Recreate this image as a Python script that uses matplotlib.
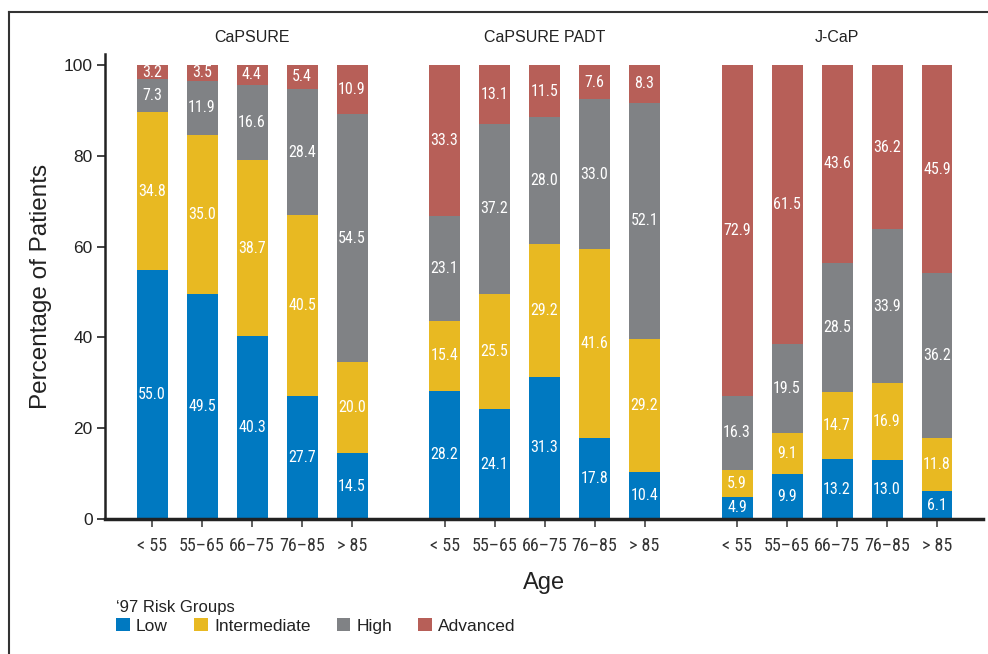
import matplotlib
matplotlib.use("Agg")
import matplotlib.pyplot as plt
from matplotlib.lines import Line2D
from matplotlib.patches import Patch
from matplotlib import font_manager
import numpy as np

groups = ["CaPSURE", "CaPSURE PADT", "J-CaP"]
ages = ["< 55", "55\u201365", "66\u201375", "76\u201385", "> 85"]
risk_groups = ["Low", "Intermediate", "High", "Advanced"]

capsure_low = [55.0, 49.5, 40.3, 27.7, 14.5]
capsure_int = [34.8, 35.0, 38.7, 40.5, 20.0]
capsure_high = [7.3, 11.9, 16.6, 28.4, 54.5]
capsure_adv = [3.2, 3.5, 4.4, 5.4, 10.9]

padt_low = [28.2, 24.1, 31.3, 17.8, 10.4]
padt_int = [15.4, 25.5, 29.2, 41.6, 29.2]
padt_high = [23.1, 37.2, 28.0, 33.0, 52.1]
padt_adv = [33.3, 13.1, 11.5, 7.6, 8.3]

jcap_low = [4.9, 9.9, 13.2, 13.0, 6.1]
jcap_int = [5.9, 9.1, 14.7, 16.9, 11.8]
jcap_high = [16.3, 19.5, 28.5, 33.9, 36.2]
jcap_adv = [72.9, 61.5, 43.6, 36.2, 45.9]

colors = ["#0079C1", "#E8B922", "#808285", "#B75F58"]

avail = {f.name for f in font_manager.fontManager.ttflist}
narrow = "Liberation Sans Narrow" if "Liberation Sans Narrow" in avail else ("Roboto Condensed" if "Roboto Condensed" in avail else "Liberation Sans")
plt.rcParams['font.family'] = ['Liberation Sans', 'DejaVu Sans']

data = [
    [capsure_low, capsure_int, capsure_high, capsure_adv],
    [padt_low, padt_int, padt_high, padt_adv],
    [jcap_low, jcap_int, jcap_high, jcap_adv],
]

fig = plt.figure(figsize=(9.88, 6.54), dpi=100)
ax = fig.add_axes([105/988, 1-519/654, (983-105)/988, (519-54)/654])

group_offset = 5.85
width = 0.62
all_x = []
all_lab = []
for gi, gdata in enumerate(data):
    x = np.arange(5) + gi * group_offset
    arr = np.array(gdata)
    totals = arr.sum(axis=0)
    heights = arr / totals * 100
    bottom = np.zeros(5)
    for ri in range(4):
        ax.bar(x, heights[ri], width, bottom=bottom, color=colors[ri], linewidth=0)
        for xi, b, h, v in zip(x, bottom, heights[ri], arr[ri]):
            ax.text(xi, b + h / 2, f"{v:.1f}", ha="center", va="center",
                    color="white", fontsize=11.5, family=[narrow, 'DejaVu Sans'])
        bottom = bottom + heights[ri]
    ax.text(x.mean(), 106, groups[gi], ha="center", va="center", fontsize=11.5, color="#222222")
    all_x.extend(x)
    all_lab.extend(ages)

ax.set_xticks(all_x)
ax.set_xticklabels(all_lab, fontsize=13, color="#333333", family=[narrow, 'DejaVu Sans'])
ax.set_xlim(-0.94, 16.62)
ax.set_ylim(0, 102.4)
ax.set_yticks([0, 20, 40, 60, 80, 100])
ax.tick_params(axis='y', labelsize=12.5, colors="#222222", length=6, width=1.2, pad=3)
ax.tick_params(axis='x', length=6, width=1.2, color="#444444", pad=7)
for s in ["top", "right"]:
    ax.spines[s].set_visible(False)
ax.spines["left"].set_linewidth(1.8)
ax.spines["bottom"].set_linewidth(2.5)
ax.spines["left"].set_color("#222222")
ax.spines["bottom"].set_color("#222222")
ax.set_ylabel("Percentage of Patients", fontsize=17.5, color="#222222", labelpad=8)
ax.set_xlabel("Age", fontsize=17, color="#222222", labelpad=12)

handles = [Patch(facecolor=c, edgecolor='none') for c in colors]
leg = fig.legend(handles, risk_groups, loc="lower left", bbox_to_anchor=(104/988, 1-646/654),
                 ncol=4, frameon=False, title="\u201897 Risk Groups", alignment="left",
                 fontsize=12.5, title_fontsize=12, handlelength=0.8, handleheight=0.8,
                 handletextpad=0.35, columnspacing=1.5, borderpad=0.2, labelspacing=0.2)
for t in leg.get_texts():
    t.set_color("#222222")
leg.get_title().set_color("#222222")

fig.add_artist(Line2D([9/988, 9/988], [0, 1-12/654], color="#333333", lw=1.5, transform=fig.transFigure))
fig.add_artist(Line2D([9/988, 1], [1-12/654, 1-12/654], color="#333333", lw=1.5, transform=fig.transFigure))

fig.savefig("out.png", dpi=100)
